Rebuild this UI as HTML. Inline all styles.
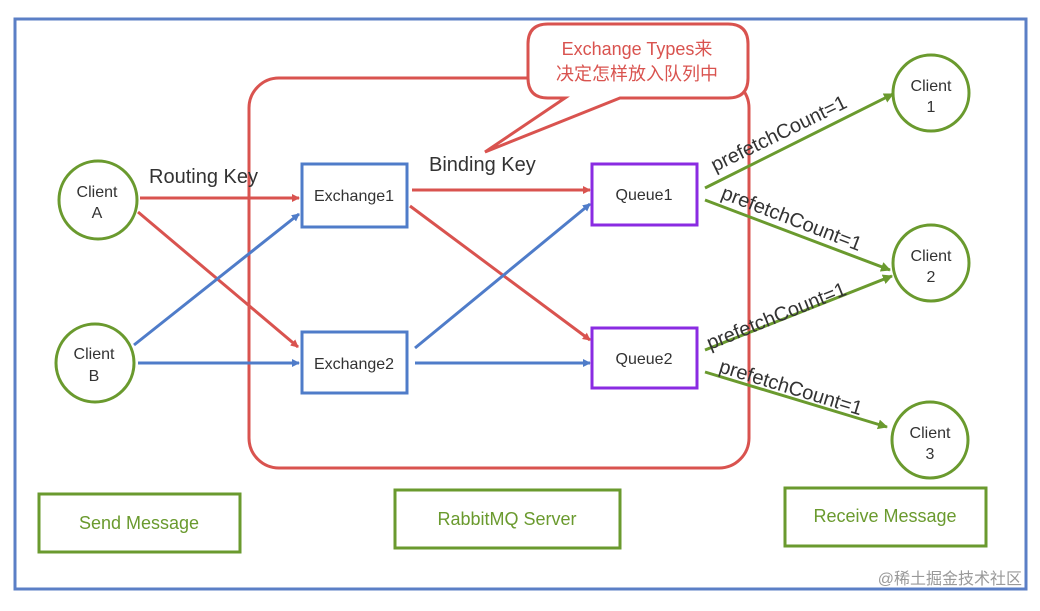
<!DOCTYPE html>
<html><head><meta charset="utf-8"><style>
body{margin:0;background:#fff;width:1040px;height:606px;overflow:hidden}
svg text{font-family:"Liberation Sans","Noto Sans CJK SC",sans-serif}
</style></head><body>
<svg width="1040" height="606" viewBox="0 0 1040 606" xmlns="http://www.w3.org/2000/svg">
<defs>
<marker id="r" markerWidth="8" markerHeight="8" refX="7" refY="4" orient="auto" markerUnits="userSpaceOnUse"><path d="M0,0L8,4L0,8z" fill="#d9534f"/></marker>
<marker id="b" markerWidth="8" markerHeight="8" refX="7" refY="4" orient="auto" markerUnits="userSpaceOnUse"><path d="M0,0L8,4L0,8z" fill="#4f7cc9"/></marker>
<marker id="g" markerWidth="10" markerHeight="10" refX="9" refY="5" orient="auto" markerUnits="userSpaceOnUse"><path d="M0,0L10,5L0,10z" fill="#6a9a2e"/></marker>
</defs>
<rect x="15" y="19" width="1011" height="570" fill="#fff" stroke="#5b7fc6" stroke-width="3"/>
<!-- server box -->
<rect x="249" y="78" width="500" height="390" rx="30" fill="none" stroke="#d9534f" stroke-width="3"/>
<!-- callout -->
<path d="M560,24 H728 Q748,24 748,44 V78 Q748,98 728,98 H620 L485,152 L565,98 H548 Q528,98 528,78 V44 Q528,24 548,24 Z" fill="#fff" stroke="#d9534f" stroke-width="3"/>
<text x="637" y="55" font-size="18" fill="#d9534f" text-anchor="middle">Exchange Types来</text>
<text x="637" y="80" font-size="18" fill="#d9534f" text-anchor="middle">决定怎样放入队列中</text>
<!-- red arrows -->
<g stroke="#d9534f" stroke-width="3" fill="none">
<line x1="140" y1="198" x2="299" y2="198" marker-end="url(#r)"/>
<line x1="138" y1="212" x2="298" y2="347" marker-end="url(#r)"/>
<line x1="412" y1="190" x2="590" y2="190" marker-end="url(#r)"/>
<line x1="410" y1="206" x2="590" y2="340" marker-end="url(#r)"/>
</g>
<g stroke="#4f7cc9" stroke-width="3" fill="none">
<line x1="134" y1="345" x2="299" y2="214" marker-end="url(#b)"/>
<line x1="138" y1="363" x2="299" y2="363" marker-end="url(#b)"/>
<line x1="415" y1="348" x2="590" y2="204" marker-end="url(#b)"/>
<line x1="415" y1="363" x2="590" y2="363" marker-end="url(#b)"/>
</g>
<g stroke="#6a9a2e" stroke-width="3" fill="none">
<line x1="705" y1="188" x2="893" y2="94" marker-end="url(#g)"/>
<line x1="705" y1="200" x2="890" y2="270" marker-end="url(#g)"/>
<line x1="705" y1="350" x2="892" y2="276" marker-end="url(#g)"/>
<line x1="705" y1="372" x2="887" y2="427" marker-end="url(#g)"/>
</g>
<!-- circles -->
<g fill="#fff" stroke="#6a9a2e" stroke-width="3">
<circle cx="98" cy="200" r="39"/><circle cx="95" cy="363" r="39"/>
<circle cx="931" cy="93" r="38"/><circle cx="931" cy="263" r="38"/><circle cx="930" cy="440" r="38"/>
</g>
<g font-size="16" fill="#333" text-anchor="middle">
<text x="97" y="197">Client</text><text x="97" y="218">A</text>
<text x="94" y="359">Client</text><text x="94" y="381">B</text>
<text x="931" y="91">Client</text><text x="931" y="112">1</text>
<text x="931" y="261">Client</text><text x="931" y="282">2</text>
<text x="930" y="438">Client</text><text x="930" y="459">3</text>
</g>
<!-- boxes -->
<g fill="#fff" stroke-width="3">
<rect x="302" y="164" width="105" height="63" stroke="#4f7cc9"/>
<rect x="302" y="332" width="105" height="61" stroke="#4f7cc9"/>
<rect x="592" y="164" width="105" height="61" stroke="#8a2be2"/>
<rect x="592" y="328" width="105" height="60" stroke="#8a2be2"/>
</g>
<g font-size="16" fill="#333" text-anchor="middle">
<text x="354" y="201">Exchange1</text><text x="354" y="369">Exchange2</text>
<text x="644" y="200">Queue1</text><text x="644" y="364">Queue2</text>
</g>
<text x="149" y="183" font-size="20" fill="#333">Routing Key</text>
<text x="429" y="171" font-size="20" fill="#333">Binding Key</text>
<g font-size="20" fill="#333">
<text transform="translate(715,172) rotate(-26)">prefetchCount=1</text>
<text transform="translate(720,198) rotate(21)">prefetchCount=1</text>
<text transform="translate(710,350) rotate(-22)">prefetchCount=1</text>
<text transform="translate(718,372) rotate(17)">prefetchCount=1</text>
</g>
<!-- bottom -->
<g fill="#fff" stroke="#6a9a2e" stroke-width="3">
<rect x="39" y="494" width="201" height="58"/>
<rect x="395" y="490" width="225" height="58"/>
<rect x="785" y="488" width="201" height="58"/>
</g>
<g font-size="18" fill="#6a9a2e" text-anchor="middle">
<text x="139" y="529">Send Message</text>
<text x="507" y="525">RabbitMQ Server</text>
<text x="885" y="522">Receive Message</text>
</g>
<text x="1022" y="584" font-size="16" fill="#999" text-anchor="end">@稀土掘金技术社区</text>
</svg>
</body></html>
